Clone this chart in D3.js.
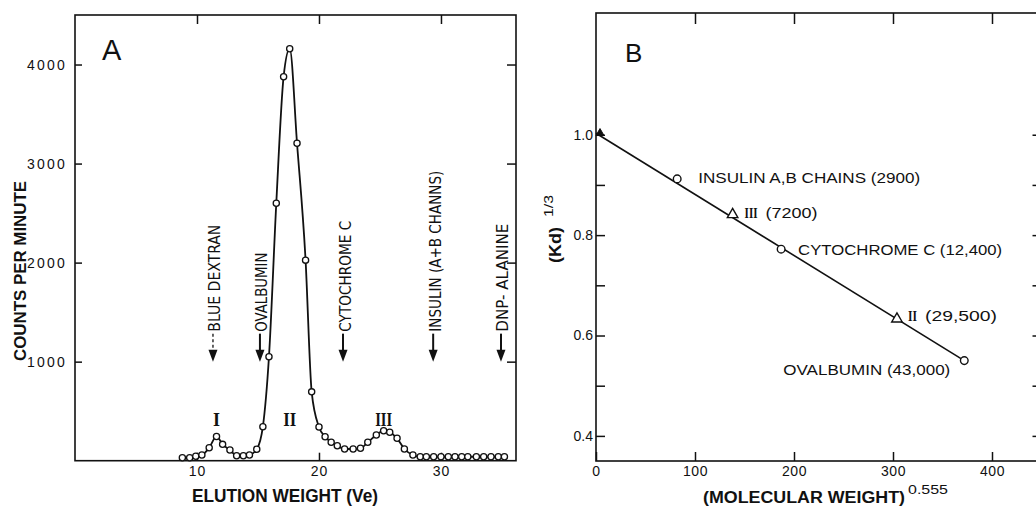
<!DOCTYPE html>
<html><head><meta charset="utf-8">
<script src="https://cdn.jsdelivr.net/npm/d3@7"></script>
<style>
html,body{margin:0;padding:0;background:#fff;}
svg{display:block;}
</style></head><body>
<svg id="chart" width="1036" height="508"></svg>
<script>
// ---------- Panel A data: elution profile ----------
const veA  = [8.8, 9.4, 9.9, 10.4, 11.0, 11.6, 12.1, 12.7, 13.25, 13.8, 14.3, 14.9, 15.4, 15.9, 16.5, 17.1, 17.6, 18.2, 18.9, 19.4,
              20.0, 20.5, 21.0, 21.5, 22.1, 22.8, 23.4, 24.0, 24.7, 25.3, 25.8, 26.4, 27.0, 27.7, 28.3, 28.8, 29.4, 30.0,
              30.6, 31.15, 31.7, 32.2, 32.9, 33.5, 34.1, 34.7, 35.2];
const cpmA = [30, 30, 45, 58, 130, 245, 165, 108, 50, 50, 58, 115, 343, 1050, 2600, 3877, 4160, 3205, 2025, 695,
              340, 242, 186, 151, 118, 118, 125, 186, 259, 303, 287, 226, 118, 58, 40, 40, 40, 40,
              40, 40, 40, 40, 40, 40, 40, 40, 40];
const xTicksA = [10, 20, 30];
const yTicksA = [1000, 2000, 3000, 4000];
// marker elution positions (arrows)
const markerLabelsA = ["BLUE DEXTRAN", "OVALBUMIN", "CYTOCHROME C", "INSULIN (A+B CHANNS)", "DNP- ALANINE"];
const markerVeA     = [11.31, 15.16, 21.97, 29.36, 34.92];
const markerDashedA = [true, false, false, false, false];
const markerArrowCpm = 1000;
// peak numerals
const peakLabelsA = ["I", "II", "III"];
const peakVeA     = [11.6, 17.6, 25.3];
const peakCpmA    = 350;

// ---------- Panel B data: calibration ----------
const mwB   = [82, 138, 187, 304, 372];
const kdB   = [0.912, 0.841, 0.772, 0.633, 0.550];
const symB  = ["circle", "triangle", "circle", "triangle", "circle"];
const numB  = ["", "III", "", "II", ""];
const textB = ["INSULIN A,B CHAINS (2900)", "(7200)", "CYTOCHROME C (12,400)", "(29,500)", "OVALBUMIN (43,000)"];
const fitMwB = [0, 372];
const fitKdB = [1.003, 0.550];
const xTicksB = [0, 100, 200, 300, 400];
const yTicksB = [0.4, 0.5, 0.6, 0.7, 0.8, 0.9, 1.0];
const yLabelTicksB = [0.4, 0.6, 0.8, 1.0];

// ---------- drawing ----------
const svg = d3.select("#chart");
const INK = "#111";
const SANS = "'Liberation Sans', Arial, Helvetica, sans-serif";
const NARROW = "'Liberation Sans Narrow', 'DejaVu Sans Condensed', 'Liberation Sans', sans-serif";
const SERIF = "'Liberation Serif', 'DejaVu Serif', serif";

function styleAxis(g, fs, ls) {
  g.select(".domain").remove();
  g.selectAll(".tick line").attr("stroke", INK).attr("stroke-width", 1.5);
  g.selectAll(".tick text").attr("fill", INK).attr("font-family", SANS)
    .attr("font-size", fs).style("letter-spacing", (ls || 0) + "px");
}

// Panel A scales
const xA = d3.scaleLinear().domain([0, 36.15]).range([75, 516]);
const yA = d3.scaleLinear().domain([0, 4500]).range([460.7, 15]);

svg.append("rect").attr("x", xA(0)).attr("y", yA(4500))
  .attr("width", xA(36.15) - xA(0)).attr("height", yA(0) - yA(4500))
  .attr("fill", "none").attr("stroke", INK).attr("stroke-width", 1.6);

svg.append("g").attr("transform", `translate(${xA(0)},0)`)
  .call(d3.axisLeft(yA).tickValues(yTicksA).tickSize(-7).tickPadding(8).tickFormat(d3.format("d")))
  .call(g => styleAxis(g, 14, 2.2));
svg.append("g").attr("transform", `translate(${xA(36.15)},0)`)
  .call(d3.axisRight(yA).tickValues(yTicksA).tickSize(-9).tickFormat(""))
  .call(g => styleAxis(g, 14));
svg.append("g").attr("transform", `translate(0,${yA(0)})`)
  .call(d3.axisBottom(xA).tickValues(xTicksA).tickSize(-8).tickPadding(5))
  .call(g => styleAxis(g, 14, 1));
svg.append("g").attr("transform", `translate(0,${yA(4500)})`)
  .call(d3.axisTop(xA).tickValues(xTicksA).tickSize(-9).tickFormat(""))
  .call(g => styleAxis(g, 14));

// profile line + points
const dataA = veA.map((v, i) => ({ x: v, y: cpmA[i] }));
svg.append("path").datum(dataA)
  .attr("d", d3.line().x(d => xA(d.x)).y(d => yA(d.y)).curve(d3.curveMonotoneX))
  .attr("fill", "none").attr("stroke", INK).attr("stroke-width", 1.8);
svg.append("g").selectAll("circle").data(dataA).join("circle")
  .attr("cx", d => xA(d.x)).attr("cy", d => yA(d.y)).attr("r", 3.1)
  .attr("fill", "#fff").attr("stroke", INK).attr("stroke-width", 1.3);

// marker arrows and labels
const textLenA = [107, 79, 111, 161, 108];
markerLabelsA.forEach((lab, i) => {
  const x = xA(markerVeA[i]);
  const tip = yA(markerArrowCpm);
  const g = svg.append("g");
  g.append("line").attr("x1", x).attr("x2", x).attr("y1", tip - 28).attr("y2", tip - 9)
    .attr("stroke", INK).attr("stroke-width", markerDashedA[i] ? 1.3 : 2)
    .attr("stroke-dasharray", markerDashedA[i] ? "3,2.5" : null);
  g.append("path").attr("d", `M${x - 4.5},${tip - 12} L${x + 4.5},${tip - 12} L${x},${tip} Z`).attr("fill", INK);
  g.append("text").attr("transform", `translate(${x + 7.5},${tip - 30}) rotate(-90)`)
    .attr("font-family", NARROW).attr("font-size", 15).attr("fill", INK)
    .attr("textLength", textLenA[i]).attr("lengthAdjust", "spacingAndGlyphs")
    .text(lab);
});

// peak numerals
const numLenA = [7, 13, 17];
peakLabelsA.forEach((lab, i) => {
  svg.append("text").attr("x", xA(peakVeA[i])).attr("y", yA(peakCpmA))
    .attr("text-anchor", "middle").attr("font-family", SERIF).attr("font-weight", "bold")
    .attr("font-size", 18).attr("fill", INK)
    .attr("textLength", numLenA[i]).attr("lengthAdjust", "spacingAndGlyphs").text(lab);
});

// panel A titles
svg.append("text").attr("x", 102).attr("y", 60).attr("font-family", SANS).attr("font-size", 29)
  .attr("fill", INK).text("A");
svg.append("text").attr("x", 192).attr("y", 502).attr("font-family", SANS).attr("font-size", 19)
  .attr("font-weight", "bold").attr("fill", INK)
  .attr("textLength", 186).attr("lengthAdjust", "spacingAndGlyphs").text("ELUTION WEIGHT (Ve)");
svg.append("text").attr("transform", "translate(26,361) rotate(-90)").attr("font-family", SANS)
  .attr("font-size", 16).attr("font-weight", "bold").attr("fill", INK)
  .attr("textLength", 180).attr("lengthAdjust", "spacingAndGlyphs").text("COUNTS PER MINUTE");

// Panel B scales
const xB = d3.scaleLinear().domain([0, 450]).range([596, 1041.5]);
const yB = d3.scaleLinear().domain([0.35, 1.2425]).range([461, 13]);

svg.append("rect").attr("x", xB(0)).attr("y", yB(1.2425))
  .attr("width", xB(450) - xB(0)).attr("height", yB(0.35) - yB(1.2425))
  .attr("fill", "none").attr("stroke", INK).attr("stroke-width", 1.6);

svg.append("g").attr("transform", `translate(${xB(0)},0)`)
  .call(d3.axisLeft(yB).tickValues(yTicksB).tickSize(-9).tickPadding(3)
    .tickFormat(d => yLabelTicksB.some(v => Math.abs(v - d) < 1e-9) ? d3.format(".1f")(d) : ""))
  .call(g => styleAxis(g, 14));
svg.append("g").attr("transform", `translate(${xB(450)},0)`)
  .call(d3.axisRight(yB).tickValues(yTicksB).tickSize(-9).tickFormat(""))
  .call(g => styleAxis(g, 14));
svg.append("g").attr("transform", `translate(0,${yB(0.35)})`)
  .call(d3.axisBottom(xB).tickValues(xTicksB).tickSize(-9).tickPadding(5))
  .call(g => styleAxis(g, 14, 0.5));
svg.append("g").attr("transform", `translate(0,${yB(1.2425)})`)
  .call(d3.axisTop(xB).tickValues(xTicksB.filter(d => d > 0)).tickSize(-11).tickFormat(""))
  .call(g => styleAxis(g, 14));

// fit line
svg.append("path").datum(fitMwB.map((m, i) => ({ x: m, y: fitKdB[i] })))
  .attr("d", d3.line().x(d => xB(d.x)).y(d => yB(d.y)))
  .attr("fill", "none").attr("stroke", INK).attr("stroke-width", 1.6);
// small triangle at intercept
svg.append("path").attr("transform", `translate(${xB(fitMwB[0]) + 4},${yB(fitKdB[0])})`)
  .attr("d", d3.symbol(d3.symbolTriangle, 28)()).attr("fill", INK).attr("stroke", INK).attr("stroke-width", 1);

// points
const dataB = mwB.map((m, i) => ({ x: m, y: kdB[i], s: symB[i], n: numB[i], t: textB[i] }));
svg.append("g").selectAll("path").data(dataB).join("path")
  .attr("transform", d => `translate(${xB(d.x)},${yB(d.y)})`)
  .attr("d", d => d.s === "circle" ? d3.symbol(d3.symbolCircle, 46)() : d3.symbol(d3.symbolTriangle, 48)())
  .attr("fill", "#fff").attr("stroke", INK).attr("stroke-width", 1.4);

// labels for points (offsets in px)
const offB = [
  { dx: 21, dy: 4, anchor: "start", len: 222, ndx: 0, nlen: 0 },
  { dx: 33, dy: 3, anchor: "start", len: 52, ndx: 12, nlen: 13 },
  { dx: 17, dy: 6, anchor: "start", len: 204, ndx: 0, nlen: 0 },
  { dx: 28, dy: 2, anchor: "start", len: 72, ndx: 11, nlen: 9 },
  { dx: -14, dy: 14, anchor: "end", len: 167, ndx: 0, nlen: 0 }
];
dataB.forEach((d, i) => {
  const o = offB[i];
  const px = xB(d.x), py = yB(d.y);
  const tx = o.anchor === "end" ? px + o.dx - o.len : px + o.dx;
  svg.append("text").attr("x", tx).attr("y", py + o.dy)
    .attr("font-family", SANS).attr("font-size", 15).attr("fill", INK)
    .attr("textLength", o.len).attr("lengthAdjust", "spacingAndGlyphs").text(d.t);
  if (d.n) {
    svg.append("text").attr("x", px + o.ndx).attr("y", py + o.dy)
      .attr("font-family", SERIF).attr("font-weight", "bold").attr("font-size", 14).attr("fill", INK)
      .attr("textLength", o.nlen).attr("lengthAdjust", "spacingAndGlyphs").text(d.n);
  }
});

// panel B titles
svg.append("text").attr("x", 625).attr("y", 62).attr("font-family", SANS).attr("font-size", 26)
  .attr("fill", INK).text("B");
svg.append("text").attr("x", 703).attr("y", 503).attr("font-family", SANS).attr("font-size", 16)
  .attr("font-weight", "bold").attr("fill", INK)
  .attr("textLength", 202).attr("lengthAdjust", "spacingAndGlyphs").text("(MOLECULAR WEIGHT)");
svg.append("text").attr("x", 908).attr("y", 494).attr("font-family", SANS).attr("font-size", 13)
  .attr("fill", INK).attr("textLength", 40).attr("lengthAdjust", "spacingAndGlyphs").text("0.555");
svg.append("text").attr("transform", "translate(561,263) rotate(-90)").attr("font-family", SANS)
  .attr("font-size", 16).attr("font-weight", "bold").attr("fill", INK)
  .attr("textLength", 36).attr("lengthAdjust", "spacingAndGlyphs").text("(Kd)");
svg.append("text").attr("transform", "translate(553,217) rotate(-90)").attr("font-family", SANS)
  .attr("font-size", 12).attr("fill", INK)
  .attr("textLength", 22).attr("lengthAdjust", "spacingAndGlyphs").text("1/3");
</script>
</body></html>
